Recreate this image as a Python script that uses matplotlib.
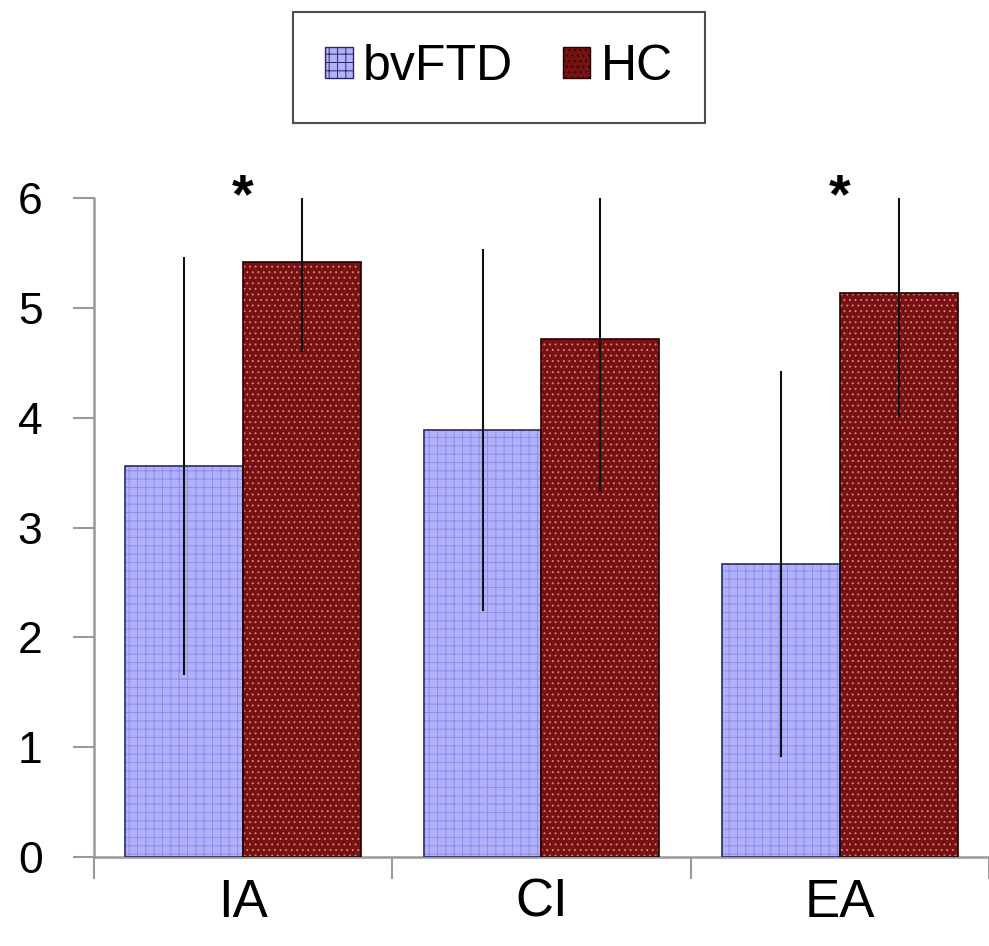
import matplotlib
matplotlib.use("Agg")
import matplotlib.pyplot as plt
import numpy as np
from matplotlib.patches import Patch

plt.rcParams['font.family'] = ['Liberation Sans', 'DejaVu Sans']
plt.rcParams['hatch.linewidth'] = 0.7

categories = ["IA", "CI", "EA"]
series_names = ["bvFTD", "HC"]
bvftd_means = [3.56, 3.89, 2.67]
bvftd_err = [1.90, 1.65, 1.76]
hc_means = [5.42, 4.72, 5.14]
hc_err = [0.82, 1.40, 1.13]
significant = ["*", "", "*"]
y_ticks = [0, 1, 2, 3, 4, 5, 6]

fig = plt.figure(figsize=(9.89, 9.46), dpi=100)
ax = fig.add_axes([0.095, 0.094, 0.905, 0.6966])

x = np.arange(len(categories))
w = 0.395

bv_face = '#B0B0FC'
bv_hatch = '#8C8CE6'
hc_face = '#781212'
hc_hatch = '#D08080'

# fills with hatch
ax.bar(x - w/2, bvftd_means, w, color=bv_face, edgecolor=bv_hatch, hatch='++', linewidth=0, zorder=2)
ax.bar(x + w/2, hc_means, w, color=hc_face, edgecolor=hc_hatch, hatch='...', linewidth=0, zorder=2)
# outlines
ax.bar(x - w/2, bvftd_means, w, fill=False, edgecolor='#2A2A60', linewidth=1.2, zorder=3)
ax.bar(x + w/2, hc_means, w, fill=False, edgecolor='#200000', linewidth=1.2, zorder=3)

# error bars
ax.errorbar(x - w/2, bvftd_means, yerr=bvftd_err, fmt='none', ecolor='#111111', elinewidth=1.5, capsize=0, zorder=4)
ax.errorbar(x + w/2, hc_means, yerr=hc_err, fmt='none', ecolor='#111111', elinewidth=1.5, capsize=0, zorder=4)

for xi, s in zip(x, significant):
    if s:
        ax.text(xi, 6.0, s, ha='center', va='center', fontsize=40, fontweight='bold', clip_on=False)

ax.set_xlim(-0.5, 2.5)
ax.set_ylim(0, 6)
ax.set_yticks(y_ticks)
ax.set_yticklabels([str(t) for t in y_ticks])
ax.set_xticks(x)
ax.set_xticklabels(categories)
ax.set_xticks(np.arange(-0.5, len(categories), 1.0), minor=True)
ax.tick_params(axis='x', which='major', length=0, pad=15, labelsize=38)
ax.tick_params(axis='x', which='minor', length=16, width=1.5, color='#999999', direction='out')
ax.tick_params(axis='y', length=15, width=1.5, color='#999999', direction='out', pad=22, labelsize=32)

for side in ['top', 'right']:
    ax.spines[side].set_visible(False)
for side in ['left', 'bottom']:
    ax.spines[side].set_color('#999999')
    ax.spines[side].set_linewidth(1.8)

handles = [Patch(facecolor=bv_face, edgecolor='#2A2A60', hatch='++', linewidth=1),
           Patch(facecolor=hc_face, edgecolor='#200000', hatch='...', linewidth=1)]
leg = fig.legend(handles, series_names, loc='center', bbox_to_anchor=(0.5045, 0.929), ncol=2,
                 fontsize=36, frameon=True, fancybox=False, edgecolor='#222222',
                 handlelength=0.55, handleheight=0.55, handletextpad=0.2, columnspacing=1.0,
                 borderpad=0.65, borderaxespad=0)
leg.get_frame().set_linewidth(1.5)

fig.savefig('out.png', dpi=100)
